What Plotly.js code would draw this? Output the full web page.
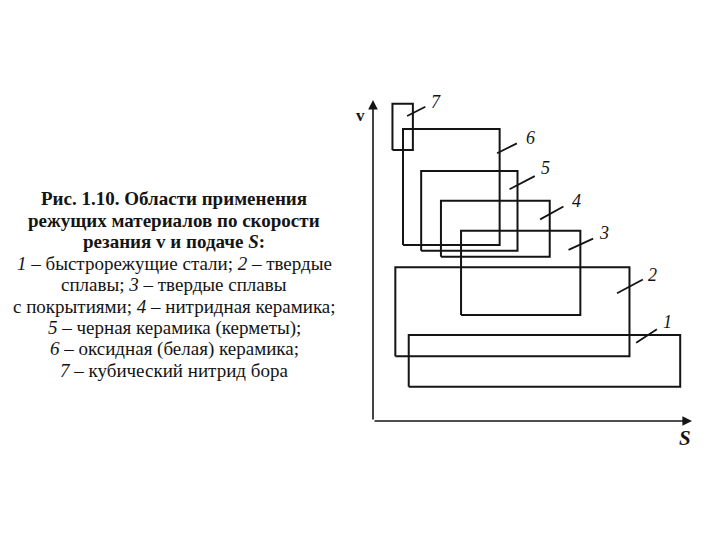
<!DOCTYPE html>
<html>
<head>
<meta charset="utf-8">
<script src="https://cdn.plot.ly/plotly-3.0.1.min.js"></script>
<style>html,body{margin:0;padding:0;background:#fff;}#chart{width:720px;height:540px;}</style>
</head>
<body>
<div id="chart"></div>
<script>
// Regions (schematic units, S and v on 0..100 scales)
const regionIds = ['1', '2', '3', '4', '5', '6', '7'];
const sMin = [11.2, 7.0, 27.6, 21.3, 15.1, 9.4, 6.1];
const sMax = [96.3, 80.4, 65.0, 55.4, 45.3, 39.7, 12.5];
const vMin = [10.7, 20.2, 33.0, 51.2, 53.0, 54.8, 84.4];
const vMax = [26.8, 47.9, 59.3, 68.6, 77.9, 91.0, 98.8];
// Leader lines (start on region edge, end near number) and number positions
const leadS0 = [82.5, 76.5, 61.3, 52.4, 42.8, 38.9, 10.7];
const leadV0 = [24.4, 39.8, 53.3, 62.8, 72.2, 83.4, 95.0];
const leadS1 = [89.0, 84.6, 69.0, 59.7, 50.7, 45.1, 16.4];
const leadV1 = [28.6, 44.1, 56.8, 66.8, 76.3, 86.5, 97.9];
const labelS = [92.2, 87.5, 72.3, 63.9, 54.0, 49.3, 19.8];
const labelV = [30.9, 45.5, 58.7, 68.5, 78.7, 88.1, 99.5];
const axisMax = 100;
const axisLabels = ['<b>v</b>', '<b><i>S</i></b>'];
const captionLines = [
  '<b>Рис. 1.10. Области применения</b>',
  '<b>режущих материалов по скорости</b>',
  '<b>резания v и подаче <i>S</i>:</b>',
  '<i>1</i> – быстрорежущие стали; <i>2</i> – твердые',
  'сплавы; <i>3</i> – твердые сплавы',
  'с покрытиями; <i>4</i> – нитридная керамика;',
  '<i>5</i> – черная керамика (керметы);',
  '<i>6</i> – оксидная (белая) керамика;',
  '<i>7</i> – кубический нитрид бора'
];

const ink = '#141414';
const serif = '"Liberation Serif", "DejaVu Serif", serif';
const traces = [];
regionIds.forEach((id, i) => {
  traces.push({
    type: 'scatter', mode: 'lines', name: id,
    x: [sMin[i], sMax[i], sMax[i], sMin[i], sMin[i]],
    y: [vMin[i], vMin[i], vMax[i], vMax[i], vMin[i]],
    line: {color: ink, width: 2}, hoverinfo: 'skip'
  });
  traces.push({
    type: 'scatter', mode: 'lines', showlegend: false,
    x: [leadS0[i], leadS1[i]], y: [leadV0[i], leadV1[i]],
    line: {color: ink, width: 1.8}, hoverinfo: 'skip'
  });
});

const annotations = regionIds.map((id, i) => ({
  x: labelS[i], y: labelV[i], xref: 'x', yref: 'y',
  text: '<i>' + id + '</i>', showarrow: false,
  font: {family: serif, size: 18, color: ink}
}));
// axes arrows
annotations.push({x: axisMax, y: 0, ax: 0, ay: 0, xref: 'x', yref: 'y', axref: 'x', ayref: 'y',
  text: '', showarrow: true, arrowhead: 2, arrowsize: 1.2, arrowwidth: 1.6, arrowcolor: ink, standoff: 0});
annotations.push({x: 0, y: axisMax, ax: 0, ay: 0, xref: 'x', yref: 'y', axref: 'x', ayref: 'y',
  text: '', showarrow: true, arrowhead: 2, arrowsize: 1.2, arrowwidth: 1.6, arrowcolor: ink, standoff: 0});
// axis names (paper coords: plot area spans 373..692 px, 100..421 px)
annotations.push({x: -0.040, y: 0.953, xref: 'paper', yref: 'paper', xanchor: 'center', yanchor: 'middle',
  text: axisLabels[0], showarrow: false, font: {family: serif, size: 17, color: ink}});
annotations.push({x: 0.979, y: -0.053, xref: 'paper', yref: 'paper', xanchor: 'center', yanchor: 'middle',
  text: axisLabels[1], showarrow: false, font: {family: serif, size: 21, color: ink}});
// caption, one annotation per line
const capTop = 198.5, capStep = 21.5;
captionLines.forEach((line, k) => {
  const py = capTop + k * capStep;
  annotations.push({
    x: (174 - 373) / 319, y: (421 - py) / 321, xref: 'paper', yref: 'paper',
    xanchor: 'center', yanchor: 'middle', showarrow: false,
    text: line, font: {family: serif, size: 19, color: ink}
  });
});

const hidden = {range: [0, axisMax], showgrid: false, zeroline: false, showticklabels: false,
  ticks: '', showline: false, fixedrange: true};
const layout = {
  width: 720, height: 540,
  margin: {l: 373, r: 28, t: 100, b: 119, pad: 0},
  paper_bgcolor: '#fff', plot_bgcolor: '#fff',
  showlegend: false,
  xaxis: Object.assign({}, hidden),
  yaxis: Object.assign({}, hidden),
  annotations: annotations
};
Plotly.newPlot('chart', traces, layout, {staticPlot: true, displayModeBar: false});
</script>
</body>
</html>
